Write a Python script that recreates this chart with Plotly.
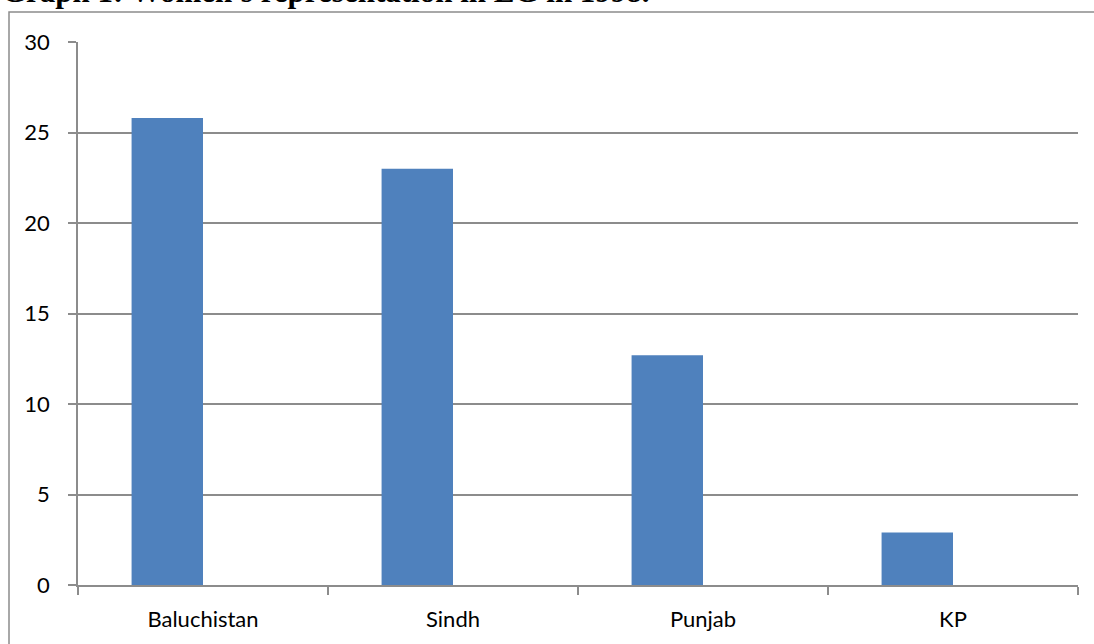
import plotly.graph_objects as go

categories = ["Baluchistan", "Sindh", "Punjab", "KP"]
values = [25.8, 23.0, 12.7, 2.9]
y_ticks = [0, 5, 10, 15, 20, 25, 30]
title_text = "Graph 1: Women's representation in LG in 1998."

L, R, T, B = 78, 16, 42, 59
W, H = 1094, 644
pw, ph = W - L - R, H - T - B

def px2x(px):
    return (px - L) / pw

def py2y(py):
    return (H - B - py) / ph

grid = "#8c8c8c"
fig = go.Figure()
fig.add_trace(go.Bar(
    x=categories, y=values,
    marker=dict(color="#4F81BD", line=dict(width=0)),
    width=0.2857, offset=-0.2857,
    showlegend=False,
))

fig.update_layout(
    width=W, height=H,
    margin=dict(l=L, r=R, t=T, b=B),
    paper_bgcolor="white", plot_bgcolor="white",
    font=dict(family="Lato, Liberation Sans, sans-serif", size=22, color="black"),
    xaxis=dict(
        type="category", tickson="boundaries", ticks="outside", ticklen=8,
        tickcolor=grid, tickwidth=1.5, showline=True, linecolor=grid, linewidth=1.5,
        showgrid=False, tickfont=dict(size=22), ticklabelstandoff=14,
        range=[-0.5, 3.5],
    ),
    yaxis=dict(
        range=[0, 30], tickvals=y_ticks, ticks="outside", ticklen=8,
        tickcolor=grid, tickwidth=1.5, showline=True, linecolor=grid, linewidth=1.5,
        showgrid=True, gridcolor=grid, gridwidth=1.5, zeroline=False,
        tickfont=dict(size=22), ticklabelstandoff=14,
    ),
    shapes=[dict(
        type="rect", xref="paper", yref="paper",
        x0=px2x(9), x1=px2x(1110), y0=py2y(12), y1=py2y(660),
        line=dict(color=grid, width=1.5), fillcolor="rgba(0,0,0,0)", layer="below",
    )],
    annotations=[dict(
        text=title_text, xref="paper", yref="paper",
        x=px2x(0), y=py2y(11), xanchor="left", yanchor="bottom",
        showarrow=False,
        font=dict(family="Liberation Serif, serif", size=31, color="black", weight="bold"),
    )],
)

fig.write_html("out.html")
